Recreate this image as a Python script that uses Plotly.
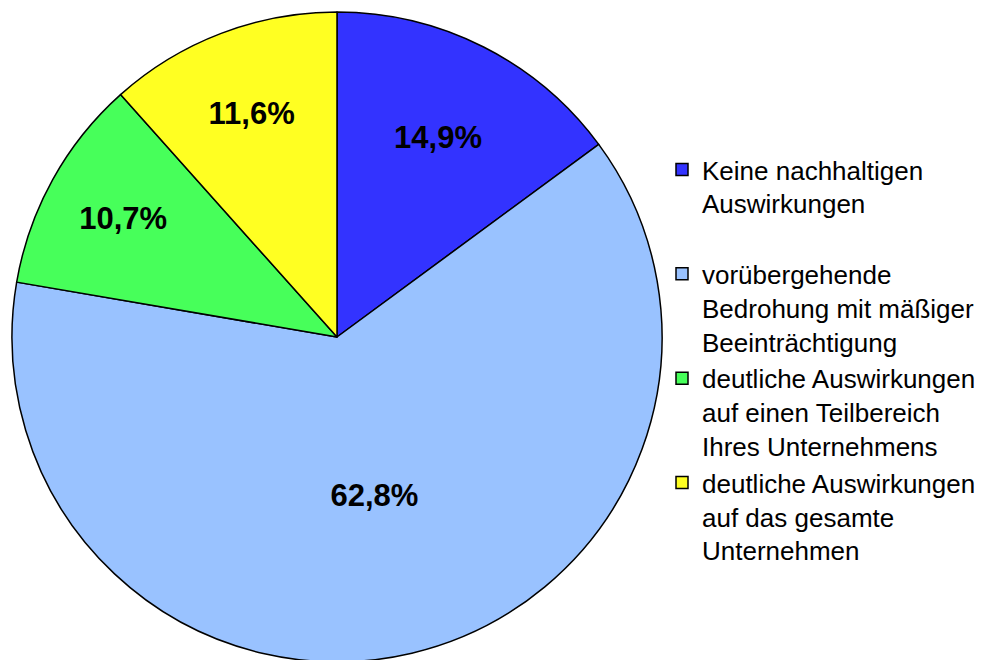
import plotly.graph_objects as go

categories = [
    "Keine nachhaltigen<br>Auswirkungen<br> ",
    "vorübergehende<br>Bedrohung mit mäßiger<br>Beeinträchtigung",
    "deutliche Auswirkungen<br>auf einen Teilbereich<br>Ihres Unternehmens",
    "deutliche Auswirkungen<br>auf das gesamte<br>Unternehmen",
]
values = [14.9, 62.8, 10.7, 11.6]
text_labels = ["14,9%", "62,8%", "10,7%", "11,6%"]
colors = ["#3333FF", "#99C2FF", "#47FF5A", "#FFFF22"]

W, H = 999, 660
OFF = 8  # default page body margin
fig = go.Figure(go.Pie(
    labels=categories,
    values=values,
    text=text_labels,
    textinfo="text",
    textposition="inside",
    insidetextorientation="horizontal",
    textfont=dict(family="Liberation Sans, Arial", size=31, color="black", weight="bold"),
    marker=dict(colors=colors, line=dict(color="black", width=1.5)),
    sort=False,
    direction="clockwise",
    rotation=0,
    domain=dict(x=[(12 - OFF) / W, (662 - OFF) / W],
                y=[(H - (662 - OFF)) / H, (H - (12 - OFF)) / H]),
    hoverinfo="label+percent",
))
fig.update_layout(
    width=W, height=H,
    margin=dict(l=0, r=0, t=0, b=0),
    paper_bgcolor="white",
    plot_bgcolor="white",
    showlegend=True,
    legend=dict(
        x=(662 - OFF) / W, xanchor="left", y=1 - (146 - OFF) / H, yanchor="top",
        font=dict(family="Liberation Sans, Arial", size=26, color="black"),
        valign="top",
        bgcolor="rgba(0,0,0,0)",
    ),
)
fig.write_html("out.html")
